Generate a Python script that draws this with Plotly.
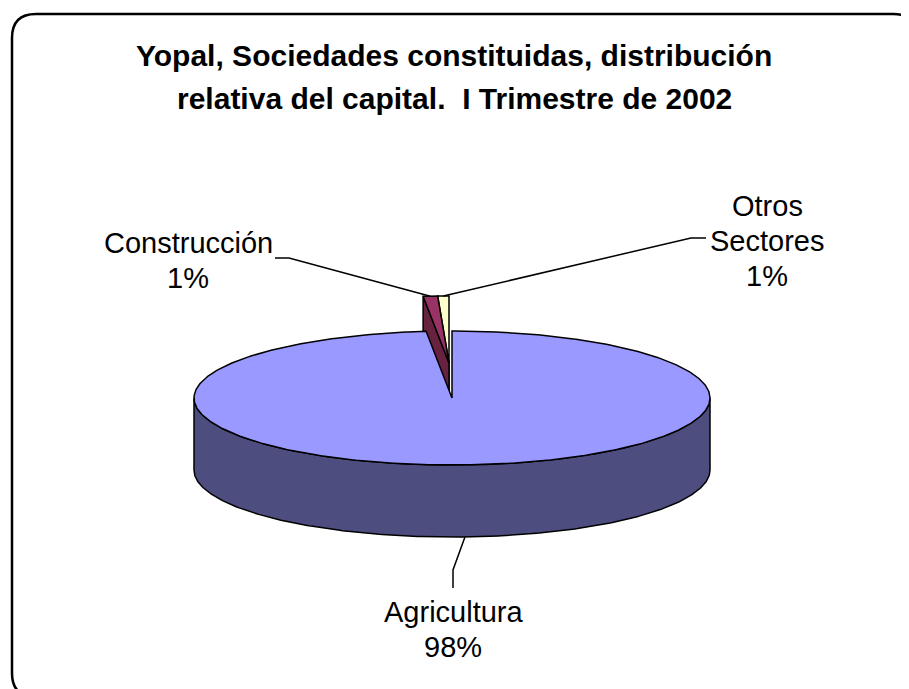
import numpy as np
import plotly.graph_objects as go

# ---------------- data ----------------
categories = ["Agricultura", "Construcción", "Otros Sectores"]
values = [98.4, 0.9, 0.7]
label_lines = [["Agricultura"], ["Construcción"], ["Otros", "Sectores"]]
title_lines = ["Yopal, Sociedades constituidas, distribución",
               "relativa del capital.  I Trimestre de 2002"]

# ---------------- style / geometry ----------------
PAGE_W, PAGE_H, BODY_MARGIN = 909, 689, 8
W, H = PAGE_W - BODY_MARGIN, PAGE_H - BODY_MARGIN
CX, CY, RX, RY, DEPTH = 452, 398, 258, 67, 72
PULL = [(0, 0), (-3, -35), (-3, -35)]
TOP_COL = ["#9999FF", "#993366", "#FFFFCC"]
SIDE_COL = ["#4D4D80", "#66223F", "#B3B38F"]
FONT = "Arial, 'Liberation Sans', sans-serif"
LABEL_POS = [(453, 612), (188, 243), (767, 206)]
LINE_GAP = 35
ELBOWS = [[(453, 570), (453, 588)], [(289, 258), (275, 258)], [(691, 238), (706, 238)]]


def pt(theta, h=0.0, off=(0, 0), r=1.0):
    t = np.radians(theta)
    return (CX + off[0] + r * RX * np.sin(t), CY + off[1] - r * RY * np.cos(t) + h)


total = sum(values)
bounds = np.concatenate([[0], np.cumsum(values)]) / total * 360.0

fig = go.Figure()


def poly(xs, ys, color, name):
    fig.add_trace(go.Scatter(x=list(xs) + [xs[0]], y=list(ys) + [ys[0]], mode="lines",
                             fill="toself", fillcolor=color,
                             line=dict(color="black", width=1.5),
                             hoverinfo="skip", showlegend=False, name=name))


def arc(a0, a1, h, off, n=None):
    if n is None:
        n = max(4, int(abs(a1 - a0) * 1.5))
    th = np.linspace(a0, a1, n)
    p = [pt(t, h, off) for t in th]
    return [q[0] for q in p], [q[1] for q in p]


for i in [2, 1, 0]:
    a0, a1 = bounds[i], bounds[i + 1]
    off = PULL[i]
    c0 = pt(0, 0, off, r=0)
    c1 = pt(0, DEPTH, off, r=0)
    # cut faces
    if np.sin(np.radians(a0)) < -1e-9:
        r0, r1 = pt(a0, 0, off), pt(a0, DEPTH, off)
        poly([c0[0], r0[0], r1[0], c1[0]], [c0[1], r0[1], r1[1], c1[1]], SIDE_COL[i], categories[i])
    if np.sin(np.radians(a1)) > 1e-9:
        r0, r1 = pt(a1, 0, off), pt(a1, DEPTH, off)
        poly([c0[0], r0[0], r1[0], c1[0]], [c0[1], r0[1], r1[1], c1[1]], SIDE_COL[i], categories[i])
    # outer wall (front half)
    w0, w1 = max(a0, 90), min(a1, 270)
    if w1 > w0:
        tx, ty = arc(w0, w1, 0, off)
        bx, by = arc(w1, w0, DEPTH, off)
        poly(tx + bx, ty + by, SIDE_COL[i], categories[i])
    # top face
    ax, ay = arc(a0, a1, 0, off)
    poly([c0[0]] + ax, [c0[1]] + ay, TOP_COL[i], categories[i])

# leader lines + labels
for i in range(3):
    mid = (bounds[i] + bounds[i + 1]) / 2
    off = PULL[i]
    h = DEPTH if 90 < mid < 270 else 0
    a = pt(mid, h, off)
    xs = [a[0]] + [e[0] for e in ELBOWS[i]]
    ys = [a[1]] + [e[1] for e in ELBOWS[i]]
    fig.add_trace(go.Scatter(x=xs, y=ys, mode="lines", line=dict(color="black", width=1.5),
                             hoverinfo="skip", showlegend=False))
    pct = f"{round(values[i] / total * 100):.0f}%"
    lines = label_lines[i] + [pct]
    lx, ly = LABEL_POS[i]
    for k, txt in enumerate(lines):
        fig.add_annotation(x=lx, y=ly + k * LINE_GAP, xref="x", yref="y", text=txt,
                           showarrow=False, xanchor="center", yanchor="middle",
                           font=dict(family=FONT, size=29, color="black"))

for k, txt in enumerate(title_lines):
    fig.add_annotation(x=454, y=55 + k * 43, xref="x", yref="y", text=f"<b>{txt}</b>",
                       showarrow=False, xanchor="center", yanchor="middle",
                       font=dict(family=FONT, size=30, color="black"))

# rounded border
x0, y0, x1, y1, r = 12, 14, 917, 697, 24
path = (f"M {x0 + r},{y0} L {x1 - r},{y0} Q {x1},{y0} {x1},{y0 + r} L {x1},{y1 - r} "
        f"Q {x1},{y1} {x1 - r},{y1} L {x0 + r},{y1} Q {x0},{y1} {x0},{y1 - r} "
        f"L {x0},{y0 + r} Q {x0},{y0} {x0 + r},{y0} Z")
fig.add_shape(type="path", path=path, xref="x", yref="y", line=dict(color="black", width=2.5))

# axes map 1 data unit to 1 screen pixel of the page (the page body has an 8px margin)
fig.update_layout(width=W, height=H, margin=dict(l=0, r=0, t=0, b=0),
                  paper_bgcolor="white", plot_bgcolor="white", showlegend=False,
                  xaxis=dict(range=[BODY_MARGIN, PAGE_W], visible=False, fixedrange=True),
                  yaxis=dict(range=[PAGE_H, BODY_MARGIN], visible=False, fixedrange=True))
fig.write_html("out.html")
